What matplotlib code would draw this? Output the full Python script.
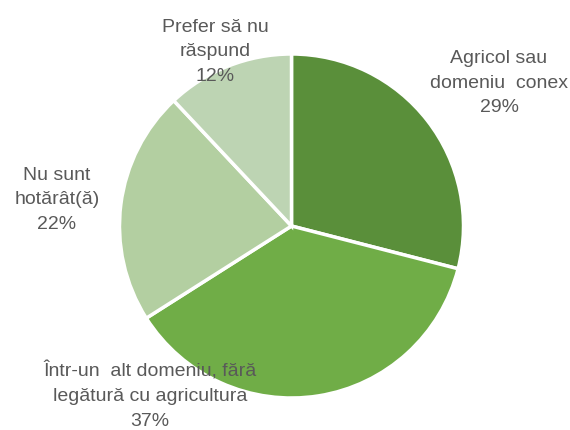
import matplotlib
matplotlib.use("Agg")
import matplotlib.pyplot as plt

labels = ["Agricol sau\ndomeniu  conex", "Într-un  alt domeniu, fără\nlegătură cu agricultura",
          "Nu sunt\nhotărât(ă)", "Prefer să nu\nrăspund"]
shares = [29, 37, 22, 12]
colors = ["#5a8f3a", "#70ad47", "#b3cfa1", "#bdd4b3"]

# label block centres in pixels (x, y from top)
label_pos = [(499, 83), (150, 396), (57, 200), (215, 52)]

W, H = 570, 431
fig = plt.figure(figsize=(W / 100, H / 100), dpi=100)
ax = fig.add_axes([0, 0, 1, 1])

ax.pie(shares, colors=colors, startangle=90, counterclock=False,
       center=(291.5, H - 227), radius=172,
       wedgeprops=dict(edgecolor="white", linewidth=2.5))
ax.set_xlim(0, W)
ax.set_ylim(0, H)
ax.set_aspect("equal")
ax.axis("off")

for lab, val, (x, y) in zip(labels, shares, label_pos):
    ax.text(x, H - y, f"{lab}\n{val}%", ha="center", va="center",
            fontsize=14, color="#595959", family="Liberation Sans",
            linespacing=1.58)

plt.savefig("out.png", dpi=100)
